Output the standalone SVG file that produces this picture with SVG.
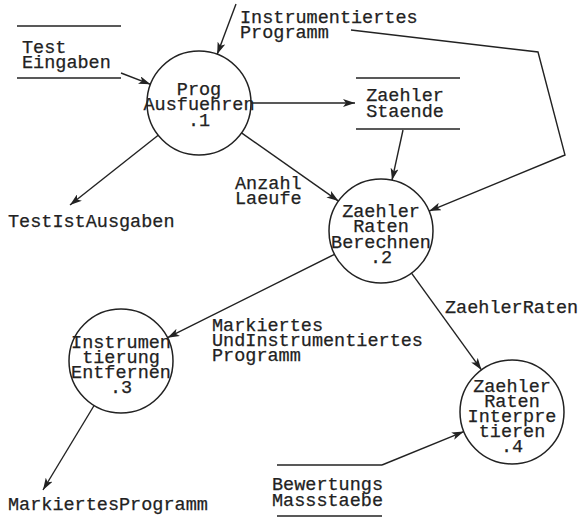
<svg xmlns="http://www.w3.org/2000/svg" width="582" height="519" viewBox="0 0 582 519">
<style>
text{font-family:"Liberation Mono","Courier New",monospace;font-size:18.5px;fill:#222;stroke:#222;stroke-width:0.25}
.c{text-anchor:middle}
.proc{fill:none;stroke:#222;stroke-width:1.5}
.st{stroke:#222;stroke-width:1.5}
.f{fill:none;stroke:#222;stroke-width:1.4;marker-end:url(#ah)}
</style>
<defs>
<marker id="ah" viewBox="0 0 12 8" refX="12" refY="4" markerWidth="12" markerHeight="8" markerUnits="userSpaceOnUse" orient="auto">
<path d="M0,0 L12,4 L0,8 L3,4 Z" fill="#222"/>
</marker>
</defs>
<rect width="582" height="519" fill="#fff"/>
<g id="connectors">
<line class="f" x1="121" y1="73" x2="150.5" y2="84.3"/>
<line class="f" x1="236" y1="4" x2="217.2" y2="54.3"/>
<line class="f" x1="251" y1="103" x2="355" y2="103"/>
<line class="f" x1="403" y1="130" x2="392" y2="180.2"/>
<line class="f" x1="241.5" y1="132.9" x2="338.5" y2="201.1"/>
<polyline class="f" points="351,30 538,52 565,155 429.1,211.1"/>
<line class="f" x1="158.2" y1="135.2" x2="70" y2="205"/>
<line class="f" x1="334.5" y1="254.3" x2="167.5" y2="337.7"/>
<line class="f" x1="94.1" y1="405.5" x2="43" y2="490"/>
<line class="f" x1="411.5" y1="273.1" x2="481.5" y2="369.9"/>
<line class="f" x1="382" y1="465" x2="463.8" y2="431.6"/>
</g>
<g id="flow-labels">
<text x="240" y="23">Instrumentiertes</text>
<text x="240" y="38">Programm</text>
<text x="235" y="189">Anzahl</text>
<text x="235" y="204">Laeufe</text>
<text x="8" y="227">TestIstAusgaben</text>
<text x="212" y="331">Markiertes</text>
<text x="212" y="346">UndInstrumentiertes</text>
<text x="212" y="361">Programm</text>
<text x="445" y="313">ZaehlerRaten</text>
<text x="8" y="510">MarkiertesProgramm</text>
</g>
<g id="store-testeingaben">
<line class="st" x1="17" y1="26" x2="121" y2="26"/>
<line class="st" x1="17" y1="78" x2="121" y2="78"/>
<text x="22" y="53">Test</text>
<text x="22" y="68">Eingaben</text>
</g>
<g id="store-zaehlerstaende">
<line class="st" x1="356" y1="78" x2="460" y2="78"/>
<line class="st" x1="356" y1="129" x2="460" y2="129"/>
<text class="c" x="405" y="101">Zaehler</text>
<text class="c" x="405" y="117">Staende</text>
</g>
<g id="store-bewertungsmassstaebe">
<line class="st" x1="277" y1="465" x2="382" y2="465"/>
<line class="st" x1="277" y1="516" x2="382" y2="516"/>
<text x="272" y="490">Bewertungs</text>
<text x="272" y="506">Massstaebe</text>
</g>
<g id="p1">
<circle class="proc" cx="199" cy="103" r="52"/>
<text class="c" x="199" y="95">Prog</text>
<text class="c" x="199" y="110">Ausfuehren</text>
<text class="c" x="199" y="126">.1</text>
</g>
<g id="p2">
<circle class="proc" cx="381" cy="231" r="52"/>
<text class="c" x="381" y="217">Zaehler</text>
<text class="c" x="381" y="232">Raten</text>
<text class="c" x="381" y="248">Berechnen</text>
<text class="c" x="381" y="263">.2</text>
</g>
<g id="p3">
<circle class="proc" cx="121" cy="361" r="52"/>
<text class="c" x="121" y="348">Instrumen</text>
<text class="c" x="121" y="363">tierung</text>
<text class="c" x="121" y="378">Entfernen</text>
<text class="c" x="121" y="393">.3</text>
</g>
<g id="p4">
<circle class="proc" cx="512" cy="412" r="52"/>
<text class="c" x="512" y="392">Zaehler</text>
<text class="c" x="512" y="407">Raten</text>
<text class="c" x="512" y="422">Interpre</text>
<text class="c" x="512" y="437">tieren</text>
<text class="c" x="512" y="452">.4</text>
</g>
</svg>
